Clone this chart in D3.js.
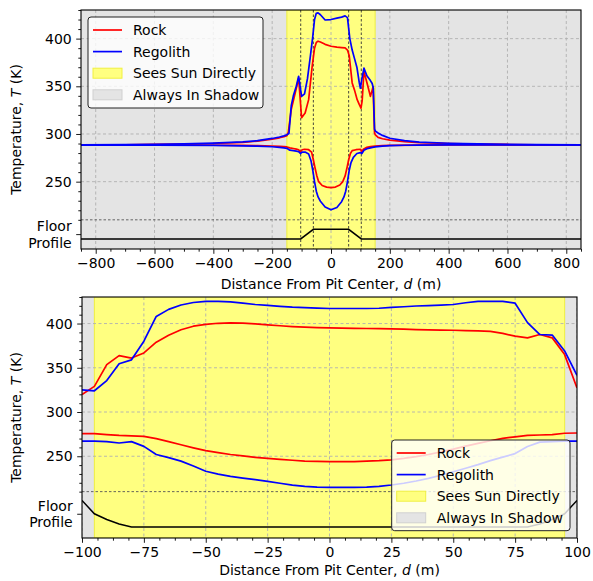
<!DOCTYPE html>
<html><head><meta charset="utf-8">
<script src="https://cdn.jsdelivr.net/npm/d3@7"></script>
<style>
body{margin:0;background:#fff;}
text{font-family:"DejaVu Sans",sans-serif;fill:#000;}
</style></head><body>
<svg id="chart" width="593" height="581"></svg>
<script>
// ---------------- DATA ----------------
// Top panel: full transect (distance d in m, temperature T in K)
const topRockMax = [[-850,288.5],[-700,288.7],[-600,289],[-500,289.4],[-400,290],[-300,291.3],[-250,292.5],[-200,294.5],[-175,296],[-160,297.2],[-150,298.3],[-145,302],[-135,326],[-127,336],[-118,348],[-110,358.5],[-100,317],[-88,322],[-76,336],[-64,371],[-56,390],[-50,396],[-44,397.3],[-36,396.5],[-20,394],[0,392],[20,391],[36,390.5],[48,390.2],[56,388],[62,382],[72,353.5],[80,346],[89,336],[96,331],[102,327],[106,335],[112,365.5],[122,354],[134,339.5],[140,346],[143,349.5],[148,301],[151,299],[160,296.5],[175,295],[200,293.6],[250,292],[300,291],[400,290],[500,289.4],[600,289],[700,288.7],[850,288.5]];
const topRegolithMax = [[-850,288.6],[-700,288.9],[-600,289.2],[-500,289.7],[-400,290.4],[-300,291.7],[-250,293],[-200,295.3],[-175,296.8],[-160,298],[-150,299.2],[-143,300.5],[-135,330],[-128,340],[-118,350],[-110,360.5],[-100,339.5],[-90,342],[-80,358],[-70,382],[-62,402],[-56,420],[-50,426.5],[-44,427],[-36,425],[-20,419.5],[0,420],[20,421.5],[36,422.5],[48,423.8],[56,422],[64,400],[72,388],[80,379],[88,370],[96,354],[100,348],[104,356],[112,369],[122,361],[134,356],[140,353],[144,348],[148,305],[151,303],[160,301],[175,298.5],[200,295.5],[250,293],[300,291.5],[400,290.3],[500,289.7],[600,289.2],[700,288.9],[850,288.6]];
const topRockMin = [[-850,288.5],[-600,288.4],[-400,288.2],[-300,288],[-250,287.8],[-200,287.4],[-175,287.1],[-160,286.8],[-150,286.4],[-140,285.5],[-128,284.8],[-118,284.2],[-110,283.5],[-104,281],[-98,283.5],[-90,284],[-76,283.5],[-66,281],[-60,273],[-54,264],[-48,256],[-42,250],[-30,246],[-15,244.3],[0,243.8],[15,244.3],[30,246.5],[40,250],[48,256],[54,264],[60,273],[66,279.5],[72,282.5],[85,283.5],[100,284],[105,281.5],[110,284],[122,286],[134,286.8],[150,287.3],[175,287.8],[200,288.1],[300,288.4],[400,288.5],[850,288.5]];
const topRegolithMin = [[-850,288.4],[-600,288.3],[-400,288],[-300,287.6],[-250,287.2],[-200,286.6],[-175,286],[-160,285.5],[-150,285],[-140,283],[-128,282.5],[-118,282],[-110,281.5],[-104,279.5],[-98,281],[-88,281],[-76,279],[-68,272],[-62,262],[-56,250],[-50,240],[-44,234],[-36,229.5],[-20,223.5],[0,220.5],[20,223],[36,229],[44,234],[50,240],[56,250],[62,262],[68,270],[76,275.5],[88,279.5],[100,280.5],[105,279.5],[112,283],[122,284.5],[134,285.5],[150,286.5],[175,287.2],[200,287.8],[250,288.2],[300,288.4],[400,288.5],[850,288.5]];
const topFloorD = [-850,-103,-60,60,103,850];
const topFloorT = [190,190,200,200,190,190];

// Bottom panel: pit floor zoom, samples every 5 m
const botD = [-100,-95,-90,-85,-80,-75,-70,-65,-60,-55,-50,-45,-40,-35,-30,-25,-20,-15,-10,-5,0,5,10,15,20,25,30,35,40,45,50,55,60,65,70,75,80,85,90,95,100];
const botRockMax = [319.7,329,353.6,363.8,361,366.8,378.9,386.8,393,397,399,400.3,400.8,400.5,399.6,398.5,397.5,396.6,396,395.4,395,394.8,394.6,394.4,394.2,394,393.6,393.2,392.8,392.5,392.4,392,391.6,391.2,388.8,385.7,383.8,387.6,383.8,364.9,327.3];
const botRegolithMax = [325,324,335.5,354.5,359,380,408,416,421,423.8,425,425,424.5,423,421.5,420.5,419.5,418.5,418,417.5,417,417,417,417,417.3,418.3,419,419.8,420.3,420.8,421.5,423.5,425,425,425,423,401,387.6,387,369,341.5];
const botRockMin = [275.6,275.5,274.5,273.5,273,272.5,270,266.5,263,259.5,256.3,254,252,250.4,248.8,247.5,246.5,245.5,244.6,244.1,243.9,243.9,244,244.4,245,246,247.5,249.5,252,255,258,261.5,264.5,267.5,270.2,272,273.6,274,274.4,276,276.3];
const botRegolithMin = [267,267,266.5,265,266.5,261.2,252,248.5,244.5,239,233,229.8,227.3,225.3,223.5,221.7,219.5,217.3,216,215.2,214.9,214.9,214.9,215,216,217.5,219.5,222,225,228.5,232.5,236.5,240.5,245,249,253,261,266,266.5,267,267];
const botFloorD = [-100,-95,-90,-85,-80,80,85,90,95,100];
const botFloorT = [200,185,178.5,173.5,170,170,173.5,178.5,185,200];

// Tick labels / categories
const topXTicks = [-800,-600,-400,-200,0,200,400,600,800];
const botXTicks = [-100,-75,-50,-25,0,25,50,75,100];
const yTicks = [250,300,350,400];
const legendLabels = ["Rock","Regolith","Sees Sun Directly","Always In Shadow"];
const floorLabel = ["Floor","Profile"];
const xLabel = "Distance From Pit Center, ";
const topSun = [-150,150], topShadow = [[-850,-150],[150,850]];
const botSun = [-95,95], botShadow = [[-100,-95],[95,100]];
const topDashedX = [-103,-60,60,103];
const floorSepT = 210;

// ---------------- DRAW ----------------
const svg = d3.select("#chart");
const FS = 14;
const RED = "#ff0000", BLUE = "#0000ff";
const YELLOW = "#ffff80", GREY = "#e4e4e4";

function drawPanel(cfg) {
  const x = d3.scaleLinear().domain(cfg.xDomain).range([cfg.left, cfg.right]);
  const y = d3.scaleLinear().domain(cfg.yDomain).range([cfg.bottom, cfg.top]);
  const g = svg.append("g");
  const cid = "clip" + cfg.id;
  svg.append("clipPath").attr("id", cid).append("rect")
    .attr("x", cfg.left).attr("y", cfg.top)
    .attr("width", cfg.right - cfg.left).attr("height", cfg.bottom - cfg.top);
  const pg = g.append("g").attr("clip-path", `url(#${cid})`);

  cfg.shadow.forEach(s => {
    pg.append("rect").attr("x", x(s[0])).attr("y", cfg.top)
      .attr("width", x(s[1]) - x(s[0])).attr("height", cfg.bottom - cfg.top)
      .attr("fill", GREY).attr("stroke", "#c8c8c8").attr("stroke-opacity", 0.4);
  });
  pg.append("rect").attr("x", x(cfg.sun[0])).attr("y", cfg.top)
    .attr("width", x(cfg.sun[1]) - x(cfg.sun[0])).attr("height", cfg.bottom - cfg.top)
    .attr("fill", YELLOW).attr("stroke", "#f0f040").attr("stroke-width", 1);

  cfg.xTicks.forEach(t => {
    pg.append("line").attr("x1", x(t)).attr("x2", x(t)).attr("y1", cfg.top).attr("y2", cfg.bottom)
      .attr("stroke", "#b0b0b0").attr("stroke-width", 0.9).attr("stroke-dasharray", "3,2.5");
  });
  yTicks.forEach(t => {
    pg.append("line").attr("x1", cfg.left).attr("x2", cfg.right).attr("y1", y(t)).attr("y2", y(t))
      .attr("stroke", "#b0b0b0").attr("stroke-width", 0.9).attr("stroke-dasharray", "3,2.5");
  });
  pg.append("line").attr("x1", cfg.left).attr("x2", cfg.right).attr("y1", y(floorSepT)).attr("y2", y(floorSepT))
    .attr("stroke", "#555").attr("stroke-width", 0.9).attr("stroke-dasharray", "2.5,2");
  (cfg.dashedX || []).forEach(t => {
    pg.append("line").attr("x1", x(t)).attr("x2", x(t)).attr("y1", cfg.top).attr("y2", cfg.bottom)
      .attr("stroke", "#333").attr("stroke-width", 0.9).attr("stroke-dasharray", "2.5,2");
  });

  const line = d3.line().x(d => x(d[0])).y(d => y(d[1]));
  pg.append("path").datum(d3.zip(cfg.floorD, cfg.floorT)).attr("d", line)
    .attr("fill", "none").attr("stroke", "#000").attr("stroke-width", 1.5);
  cfg.series.forEach(s => {
    pg.append("path").datum(s.data).attr("d", line)
      .attr("fill", "none").attr("stroke", s.color).attr("stroke-width", 1.7)
      .attr("stroke-linejoin", "round");
  });

  g.append("rect").attr("x", cfg.left).attr("y", cfg.top)
    .attr("width", cfg.right - cfg.left).attr("height", cfg.bottom - cfg.top)
    .attr("fill", "none").attr("stroke", "#000").attr("stroke-width", 1.1);

  const xa = g.append("g").attr("transform", `translate(0,${cfg.bottom})`)
    .call(d3.axisBottom(x).tickValues(cfg.xTicks).tickSize(4.8).tickPadding(4.3).tickFormat(d3.format("d")));
  const xm = g.append("g").attr("transform", `translate(0,${cfg.bottom})`)
    .call(d3.axisBottom(x).tickValues(d3.range(cfg.xDomain[0] - (cfg.xDomain[0] % cfg.xMinor), cfg.xDomain[1] + 0.001, cfg.xMinor)
      .filter(v => v >= cfg.xDomain[0] && v <= cfg.xDomain[1] && !cfg.xTicks.includes(v))).tickSize(2.7).tickFormat(""));
  const ya = g.append("g").attr("transform", `translate(${cfg.left},0)`)
    .call(d3.axisLeft(y).tickValues(yTicks.concat([cfg.floorTick])).tickSize(4.8).tickPadding(4.5)
      .tickFormat(d => d === cfg.floorTick ? "" : d3.format("d")(d)));
  const ym = g.append("g").attr("transform", `translate(${cfg.left},0)`)
    .call(d3.axisLeft(y).tickValues(d3.range(210, 431, 10).filter(v => !yTicks.includes(v))).tickSize(2.7).tickFormat(""));
  [xa, xm, ya, ym].forEach(a => {
    a.select(".domain").remove();
    a.selectAll("line").attr("stroke", "#000").attr("stroke-width", 0.9);
    a.selectAll("text").attr("font-size", FS).attr("font-family", "DejaVu Sans").attr("fill", "#000");
  });
  const fl = g.append("text").attr("text-anchor", "end").attr("font-size", FS);
  fl.append("tspan").attr("x", cfg.left - 9.3).attr("y", y(cfg.floorTick) - 3).text(floorLabel[0]);
  fl.append("tspan").attr("x", cfg.left - 9.3).attr("y", y(cfg.floorTick) + 13.5).text(floorLabel[1]);

  const xl = g.append("text").attr("x", (cfg.left + cfg.right) / 2).attr("y", cfg.xLabelY)
    .attr("text-anchor", "middle").attr("font-size", FS);
  xl.append("tspan").text(xLabel);
  xl.append("tspan").attr("font-style", "italic").text("d");
  xl.append("tspan").text(" (m)");
  const yl = g.append("text").attr("transform", `translate(21,${(cfg.top + cfg.bottom) / 2}) rotate(-90)`)
    .attr("text-anchor", "middle").attr("font-size", FS);
  yl.append("tspan").text("Temperature, ");
  yl.append("tspan").attr("font-style", "italic").text("T");
  yl.append("tspan").text(" (K)");

  const L = cfg.legend;
  const lg = g.append("g");
  lg.append("rect").attr("x", L.x).attr("y", L.y).attr("width", L.w).attr("height", L.h)
    .attr("rx", 3).attr("fill", "#fff").attr("fill-opacity", 0.8).attr("stroke", "#222").attr("stroke-width", 1);
  const rowY = i => L.y + 13 + i * 21.6;
  [RED, BLUE].forEach((c, i) => {
    lg.append("line").attr("x1", L.x + 5).attr("x2", L.x + 34).attr("y1", rowY(i)).attr("y2", rowY(i))
      .attr("stroke", c).attr("stroke-width", 1.7);
  });
  lg.append("rect").attr("x", L.x + 5).attr("y", rowY(2) - 5).attr("width", 29).attr("height", 10)
    .attr("fill", YELLOW).attr("stroke", "#f0f040");
  lg.append("rect").attr("x", L.x + 5).attr("y", rowY(3) - 5).attr("width", 29).attr("height", 10)
    .attr("fill", GREY).attr("stroke", "#d0d0d0");
  legendLabels.forEach((t, i) => {
    lg.append("text").attr("x", L.x + 45).attr("y", rowY(i) + 5).attr("font-size", FS).text(t);
  });
}

drawPanel({
  id: "top", left: 81, right: 581, top: 10, bottom: 249,
  xDomain: [-850, 850], yDomain: [179.4, 430], xTicks: topXTicks, xMinor: 50,
  sun: topSun, shadow: topShadow, dashedX: topDashedX,
  floorD: topFloorD, floorT: topFloorT, floorTick: 195, xLabelY: 288.5,
  series: [
    {data: topRockMax, color: RED}, {data: topRockMin, color: RED},
    {data: topRegolithMax, color: BLUE}, {data: topRegolithMin, color: BLUE}
  ],
  legend: {x: 88, y: 17, w: 175, h: 91}
});
drawPanel({
  id: "bot", left: 82, right: 577, top: 297, bottom: 538,
  xDomain: [-100, 100], yDomain: [157.6, 430], xTicks: botXTicks, xMinor: 6.25,
  sun: botSun, shadow: botShadow,
  floorD: botFloorD, floorT: botFloorT, floorTick: 185, xLabelY: 575,
  series: [
    {data: d3.zip(botD, botRockMax), color: RED}, {data: d3.zip(botD, botRockMin), color: RED},
    {data: d3.zip(botD, botRegolithMax), color: BLUE}, {data: d3.zip(botD, botRegolithMin), color: BLUE}
  ],
  legend: {x: 391.7, y: 440, w: 178.3, h: 90.7}
});
</script>
</body></html>
